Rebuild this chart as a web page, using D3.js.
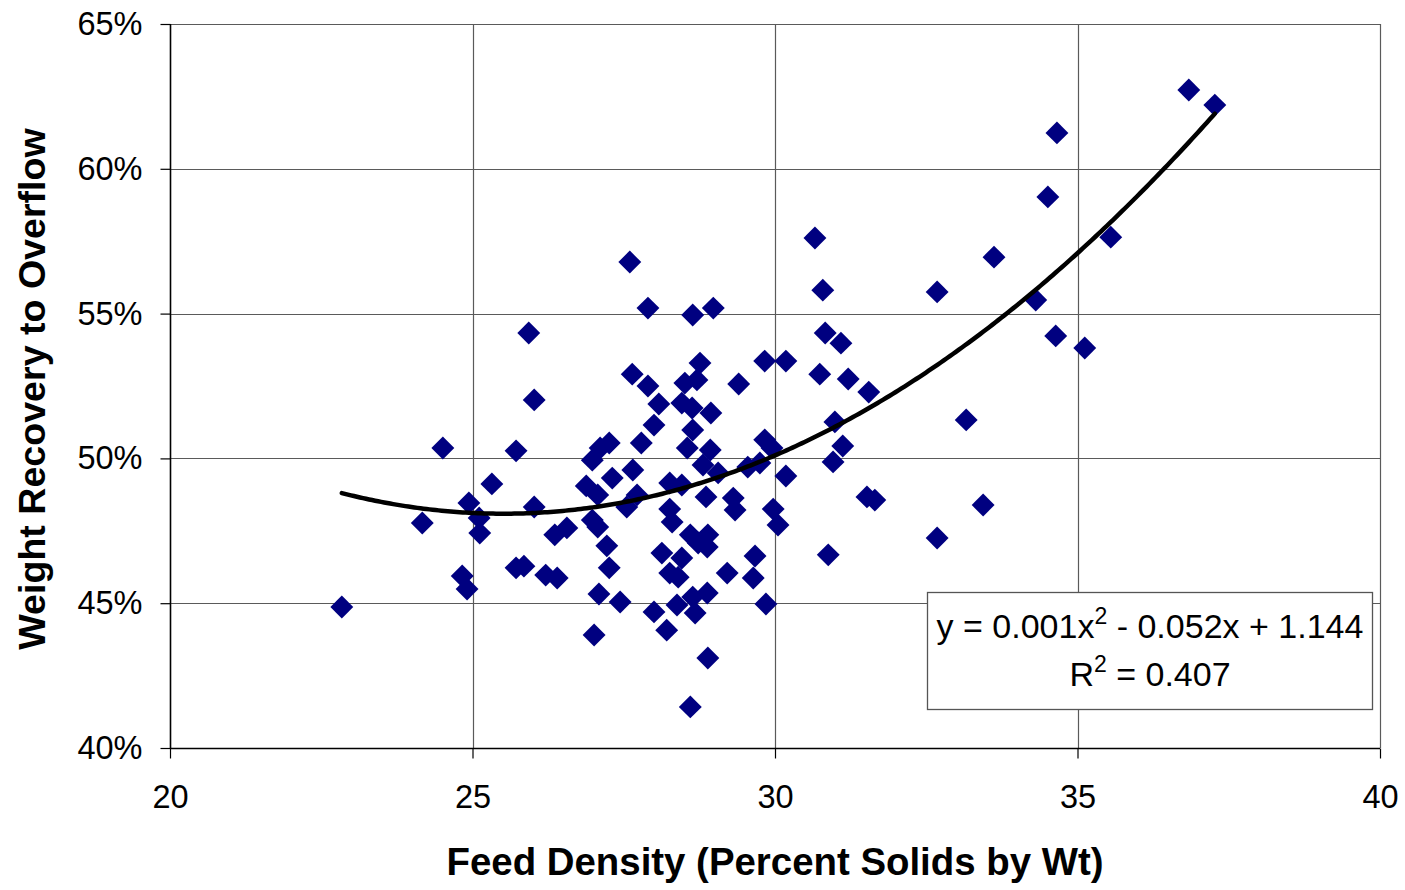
<!DOCTYPE html>
<html>
<head>
<meta charset="utf-8">
<script src="https://cdn.jsdelivr.net/npm/d3@7"></script>
<style>
  body { margin: 0; background: #fff; }
  text { font-family: 'Liberation Sans', Arial, sans-serif; fill: #000; }
</style>
</head>
<body>
<div id="chart"></div>
<script>
// feed density (% solids) and weight recovery to overflow
const feedDensity = [
  22.84, 24.17, 24.51, 24.83, 24.91, 24.94, 25.11, 25.12, 25.32, 25.72,
  25.93, 26.02, 26.02, 25.72, 25.85, 26.21, 26.40, 26.36, 26.56, 26.88,
  26.98, 27.11, 27.26, 26.98, 27.07, 27.22, 27.26, 27.09, 27.44, 27.01,
  27.31, 27.07, 27.65, 27.55, 27.72, 27.60, 27.64, 27.90, 27.90, 27.79,
  28.00, 28.08, 28.26, 28.46, 28.26, 28.30, 28.13, 28.46, 28.26, 28.40,
  28.00, 28.21, 28.38, 28.64, 28.68, 28.60, 28.73, 28.89, 28.88, 28.60,
  28.89, 28.88, 28.64, 28.98, 28.76, 28.71, 28.51, 28.46, 28.63, 28.94,
  28.64, 28.55, 28.93, 28.81, 29.06, 28.86, 29.21, 29.31, 29.34, 29.40,
  29.55, 29.64, 29.67, 29.85, 29.83, 29.95, 29.83, 30.18, 29.75, 29.97,
  30.05, 30.18, 30.66, 30.79, 30.83, 30.74, 30.88, 30.96, 30.99, 31.09,
  31.12, 31.21, 31.52, 31.65, 31.55, 32.68, 32.68, 33.16, 33.44, 33.62,
  34.31, 34.51, 34.66, 34.64, 35.12, 35.55, 36.84, 37.27
]
const weightRecovery = [
  44.87, 47.77, 50.36, 45.94, 45.49, 48.46, 47.94, 47.42, 49.12, 50.26,
  54.33, 52.02, 48.32, 46.22, 46.28, 45.97, 45.87, 47.36, 47.60, 49.05,
  49.94, 50.36, 50.53, 47.87, 47.63, 46.98, 46.22, 45.32, 45.04, 43.90,
  49.32, 48.74, 49.60, 48.32, 48.74, 56.78, 52.91, 55.19, 52.50, 50.53,
  51.15, 51.88, 49.15, 49.08, 48.25, 47.80, 46.73, 46.56, 46.04, 45.90,
  44.70, 44.07, 44.94, 45.21, 44.66, 47.36, 47.08, 47.36, 46.94, 41.42,
  43.11, 45.35, 54.95, 55.19, 53.29, 52.71, 52.60, 51.91, 51.74, 51.57,
  50.98, 50.36, 50.29, 49.77, 49.50, 48.67, 46.04, 48.63, 48.22, 52.57,
  49.70, 45.87, 46.63, 44.97, 50.64, 50.36, 53.36, 53.36, 49.84, 48.25,
  47.70, 49.39, 57.61, 55.81, 54.33, 52.91, 46.67, 49.88, 51.26, 53.98,
  50.43, 52.74, 48.67, 48.56, 52.29, 55.75, 47.25, 51.33, 48.39, 56.95,
  55.47, 59.03, 61.24, 54.23, 53.81, 57.64, 62.72, 62.20
].map(v => v / 100)

const xTicks = [20, 25, 30, 35, 40]
const yTicks = [0.40, 0.45, 0.50, 0.55, 0.60, 0.65]

// polynomial trendline y = a x^2 + b x + c
const trendCoef = [0.000999, -0.05097, 1.13104]
const trendText = ['y = 0.001x', '2', ' - 0.052x + 1.144']
const r2Text = ['R', '2', ' = 0.407']

const fullWidth = 1405,
  fullHeight = 890,
  margin = { top: 24, right: 25, bottom: 142, left: 170 },
  width = fullWidth - margin.left - margin.right,
  height = fullHeight - margin.top - margin.bottom

const x = d3.scaleLinear().domain([20, 40]).range([0, width])
const y = d3.scaleLinear().domain([0.40, 0.65]).range([height, 0])

const svg = d3.select('#chart')
  .append('svg')
  .attr('width', fullWidth)
  .attr('height', fullHeight)
    .append('g')
    .attr('transform', `translate(${margin.left}, ${margin.top})`)

// grid
svg.append('g')
  .selectAll('line')
  .data(yTicks)
  .enter()
  .append('line')
    .attr('x1', 0)
    .attr('x2', width)
    .attr('y1', d => Math.round(y(d)) + 0.5)
    .attr('y2', d => Math.round(y(d)) + 0.5)
    .attr('stroke', '#5a5a5a')
    .attr('stroke-width', 1.2)

svg.append('g')
  .selectAll('line')
  .data(xTicks)
  .enter()
  .append('line')
    .attr('x1', d => Math.round(x(d)) + 0.5)
    .attr('x2', d => Math.round(x(d)) + 0.5)
    .attr('y1', 0)
    .attr('y2', height)
    .attr('stroke', '#5a5a5a')
    .attr('stroke-width', 1.2)

// axes
svg.append('g')
  .attr('transform', 'translate(0.5, 0)')
  .call(d3.axisLeft(y)
    .tickValues(yTicks)
    .tickFormat(d3.format('.0%'))
    .tickSize(10)
    .tickPadding(18))

svg.append('g')
  .attr('transform', `translate(0, ${height + 0.5})`)
  .call(d3.axisBottom(x)
    .tickValues(xTicks)
    .tickSize(10)
    .tickPadding(26))

svg.selectAll('.domain').remove()
svg.append('line')
  .attr('x1', 0.5).attr('x2', 0.5)
  .attr('y1', 0).attr('y2', height)
  .attr('stroke', '#000').attr('stroke-width', 1.5)
svg.append('line')
  .attr('x1', 0).attr('x2', width)
  .attr('y1', height + 0.5).attr('y2', height + 0.5)
  .attr('stroke', '#000').attr('stroke-width', 1.5)

svg.selectAll('.tick line').attr('stroke', '#000').attr('stroke-width', 1.2)
svg.selectAll('.tick text')
  .attr('font-family', "'Liberation Sans', Arial, sans-serif")
  .attr('font-size', 32.5)
  .attr('fill', '#000')

// points
const points = feedDensity.map((d, i) => [d, weightRecovery[i]])

svg.append('g')
  .selectAll('path')
  .data(points)
  .enter()
  .append('path')
    .attr('transform', d => `translate(${x(d[0])}, ${y(d[1])}) rotate(45)`)
    .attr('d', d3.symbol().type(d3.symbolSquare).size(262))
    .attr('fill', '#000080')

// trendline
const xMin = d3.min(feedDensity), xMax = d3.max(feedDensity)
const trend = d3.range(xMin, xMax, 0.05).concat([xMax])
  .map(v => [v, trendCoef[0] * v * v + trendCoef[1] * v + trendCoef[2]])

svg.append('path')
  .datum(trend)
  .attr('fill', 'none')
  .attr('stroke', '#000')
  .attr('stroke-width', 4.5)
  .attr('stroke-linejoin', 'round')
  .attr('stroke-linecap', 'round')
  .attr('d', d3.line().x(d => x(d[0])).y(d => y(d[1])))

// equation box
const box = svg.append('g')
  .attr('transform', `translate(${927 - margin.left}, ${592 - margin.top})`)

box.append('rect')
  .attr('x', 0.5)
  .attr('y', 0.5)
  .attr('width', 445)
  .attr('height', 117)
  .attr('fill', '#fff')
  .attr('stroke', '#555')
  .attr('stroke-width', 1.3)

box.selectAll('text')
  .data([trendText, r2Text])
  .enter()
  .append('text')
    .attr('x', 223)
    .attr('y', (d, i) => 46 + i * 48)
    .attr('text-anchor', 'middle')
    .attr('font-size', 34)
    .each(function (parts) {
      const t = d3.select(this)
      t.append('tspan').text(parts[0])
      t.append('tspan')
        .attr('font-size', 23)
        .attr('dy', -14)
        .text(parts[1])
      t.append('tspan')
        .attr('dy', 14)
        .text(parts[2])
    })

// axis titles
svg.append('text')
  .attr('x', 775 - margin.left)
  .attr('y', 875 - margin.top)
  .attr('text-anchor', 'middle')
  .attr('font-size', 38.4)
  .attr('font-weight', 'bold')
  .text('Feed Density (Percent Solids by Wt)')

svg.append('text')
  .attr('transform', `translate(${45 - margin.left}, ${389 - margin.top}) rotate(-90)`)
  .attr('text-anchor', 'middle')
  .attr('font-size', 37.6)
  .attr('font-weight', 'bold')
  .text('Weight Recovery to Overflow')
</script>
</body>
</html>
